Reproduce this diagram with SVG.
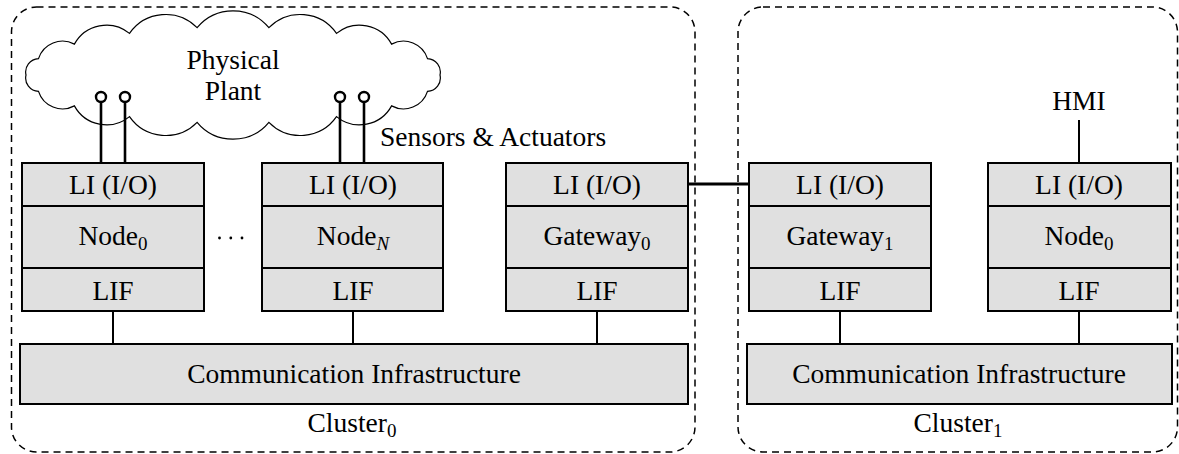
<svg xmlns="http://www.w3.org/2000/svg" width="1179" height="454" viewBox="0 0 1179 454">
<style>
.cl{fill:none;stroke:#000;stroke-width:1.5;stroke-dasharray:7 5}
.bx{fill:#e0e0e0;stroke:#000;stroke-width:2}
.t{font-size:27.5px;fill:#000;text-anchor:middle}
.ln{stroke:#000;stroke-width:2;fill:none}
.sn{stroke:#000;stroke-width:2.6;fill:none}
.pin{fill:#fff;stroke:#000;stroke-width:2.4}
</style>
<rect width="1179" height="454" fill="#fff"/>
<g font-family="'Liberation Serif', 'DejaVu Serif', serif">
<g id="cluster0">
<rect class="cl" x="11.5" y="7" width="683.5" height="445" rx="25"/>
<text class="t" x="352" y="432">Cluster<tspan font-size="19" dy="5">0</tspan></text>
</g>
<g id="cluster1">
<rect class="cl" x="738" y="7" width="439.5" height="445" rx="25"/>
<text class="t" x="958" y="432">Cluster<tspan font-size="19" dy="5">1</tspan></text>
</g>
<g id="plant">
<path d="M 440 75 A 13.4 13.4 0 0 1 427.5 91.4 A 25.2 25.2 0 0 1 391.6 105.9 A 36.5 36.5 0 0 1 336.5 116.6 A 44.1 44.1 0 0 1 268.9 122.3 A 46.7 46.7 0 0 1 197.1 122.3 A 44.1 44.1 0 0 1 129.5 116.6 A 36.5 36.5 0 0 1 74.4 105.9 A 25.2 25.2 0 0 1 38.5 91.4 A 13.4 13.4 0 0 1 26 75 A 13.4 13.4 0 0 1 38.5 58.6 A 25.2 25.2 0 0 1 74.4 44.1 A 36.5 36.5 0 0 1 129.5 33.4 A 44.1 44.1 0 0 1 197.1 27.7 A 46.7 46.7 0 0 1 268.9 27.7 A 44.1 44.1 0 0 1 336.5 33.4 A 36.5 36.5 0 0 1 391.6 44.1 A 25.2 25.2 0 0 1 427.5 58.6 A 13.4 13.4 0 0 1 440 75 Z" fill="#fff" stroke="#000" stroke-width="1.2"/>
<text class="t" x="233" y="69">Physical</text>
<text class="t" x="233" y="100">Plant</text>
</g>
<g id="node0">
<rect class="bx" x="22" y="163" width="182" height="43"/>
<rect class="bx" x="22" y="206" width="182" height="62"/>
<rect class="bx" x="22" y="268" width="182" height="43"/>
<text class="t" x="113" y="194">LI (I/O)</text>
<text class="t" x="113" y="245">Node<tspan font-size="19" dy="5">0</tspan></text>
<text class="t" x="113" y="300">LIF</text>
</g>
<g id="dots">
<circle cx="219.5" cy="238" r="1.4"/>
<circle cx="230.8" cy="238" r="1.4"/>
<circle cx="242" cy="238" r="1.4"/>
</g>
<g id="nodeN">
<rect class="bx" x="262" y="163" width="181" height="43"/>
<rect class="bx" x="262" y="206" width="181" height="62"/>
<rect class="bx" x="262" y="268" width="181" height="43"/>
<text class="t" x="353" y="194">LI (I/O)</text>
<text class="t" x="353" y="245">Node<tspan font-size="19" dy="5" font-style="italic">N</tspan></text>
<text class="t" x="353" y="300">LIF</text>
</g>
<g id="gateway0">
<rect class="bx" x="506" y="163" width="182" height="43"/>
<rect class="bx" x="506" y="206" width="182" height="62"/>
<rect class="bx" x="506" y="268" width="182" height="43"/>
<text class="t" x="597" y="194">LI (I/O)</text>
<text class="t" x="597" y="245">Gateway<tspan font-size="19" dy="5">0</tspan></text>
<text class="t" x="597" y="300">LIF</text>
</g>
<g id="comm0">
<rect class="bx" x="20" y="344" width="668" height="60"/>
<text class="t" x="354" y="383">Communication Infrastructure</text>
</g>
<g id="gateway1">
<rect class="bx" x="749" y="163" width="182" height="43"/>
<rect class="bx" x="749" y="206" width="182" height="62"/>
<rect class="bx" x="749" y="268" width="182" height="43"/>
<text class="t" x="840" y="194">LI (I/O)</text>
<text class="t" x="840" y="245">Gateway<tspan font-size="19" dy="5">1</tspan></text>
<text class="t" x="840" y="300">LIF</text>
</g>
<g id="node0b">
<rect class="bx" x="988" y="163" width="183" height="43"/>
<rect class="bx" x="988" y="206" width="183" height="62"/>
<rect class="bx" x="988" y="268" width="183" height="43"/>
<text class="t" x="1079" y="194">LI (I/O)</text>
<text class="t" x="1079" y="245">Node<tspan font-size="19" dy="5">0</tspan></text>
<text class="t" x="1079" y="300">LIF</text>
</g>
<g id="comm1">
<rect class="bx" x="747" y="344" width="425" height="60"/>
<text class="t" x="959" y="383">Communication Infrastructure</text>
</g>
<g id="hmi">
<text class="t" x="1079" y="110">HMI</text>
</g>
<g id="sensors-label">
<text class="t" x="380" y="146" style="text-anchor:start">Sensors &amp; Actuators</text>
</g>
</g>
<g id="connectors">
<line class="ln" x1="113" y1="311" x2="113" y2="344"/>
<line class="ln" x1="353" y1="311" x2="353" y2="344"/>
<line class="ln" x1="597" y1="311" x2="597" y2="344"/>
<line class="ln" x1="840" y1="311" x2="840" y2="344"/>
<line class="ln" x1="1079" y1="311" x2="1079" y2="344"/>
<line class="ln" x1="1079" y1="120" x2="1079" y2="163"/>
<line x1="688" y1="184" x2="749" y2="184" stroke="#000" stroke-width="3.2"/>
<line class="sn" x1="101" y1="102" x2="101" y2="163"/>
<line class="sn" x1="125" y1="102" x2="125" y2="163"/>
<line class="sn" x1="340" y1="102" x2="340" y2="163"/>
<line class="sn" x1="364" y1="102" x2="364" y2="163"/>
<circle class="pin" cx="101" cy="97" r="5"/>
<circle class="pin" cx="125" cy="97" r="5"/>
<circle class="pin" cx="340" cy="97" r="5"/>
<circle class="pin" cx="364" cy="97" r="5"/>
</g>
</svg>
